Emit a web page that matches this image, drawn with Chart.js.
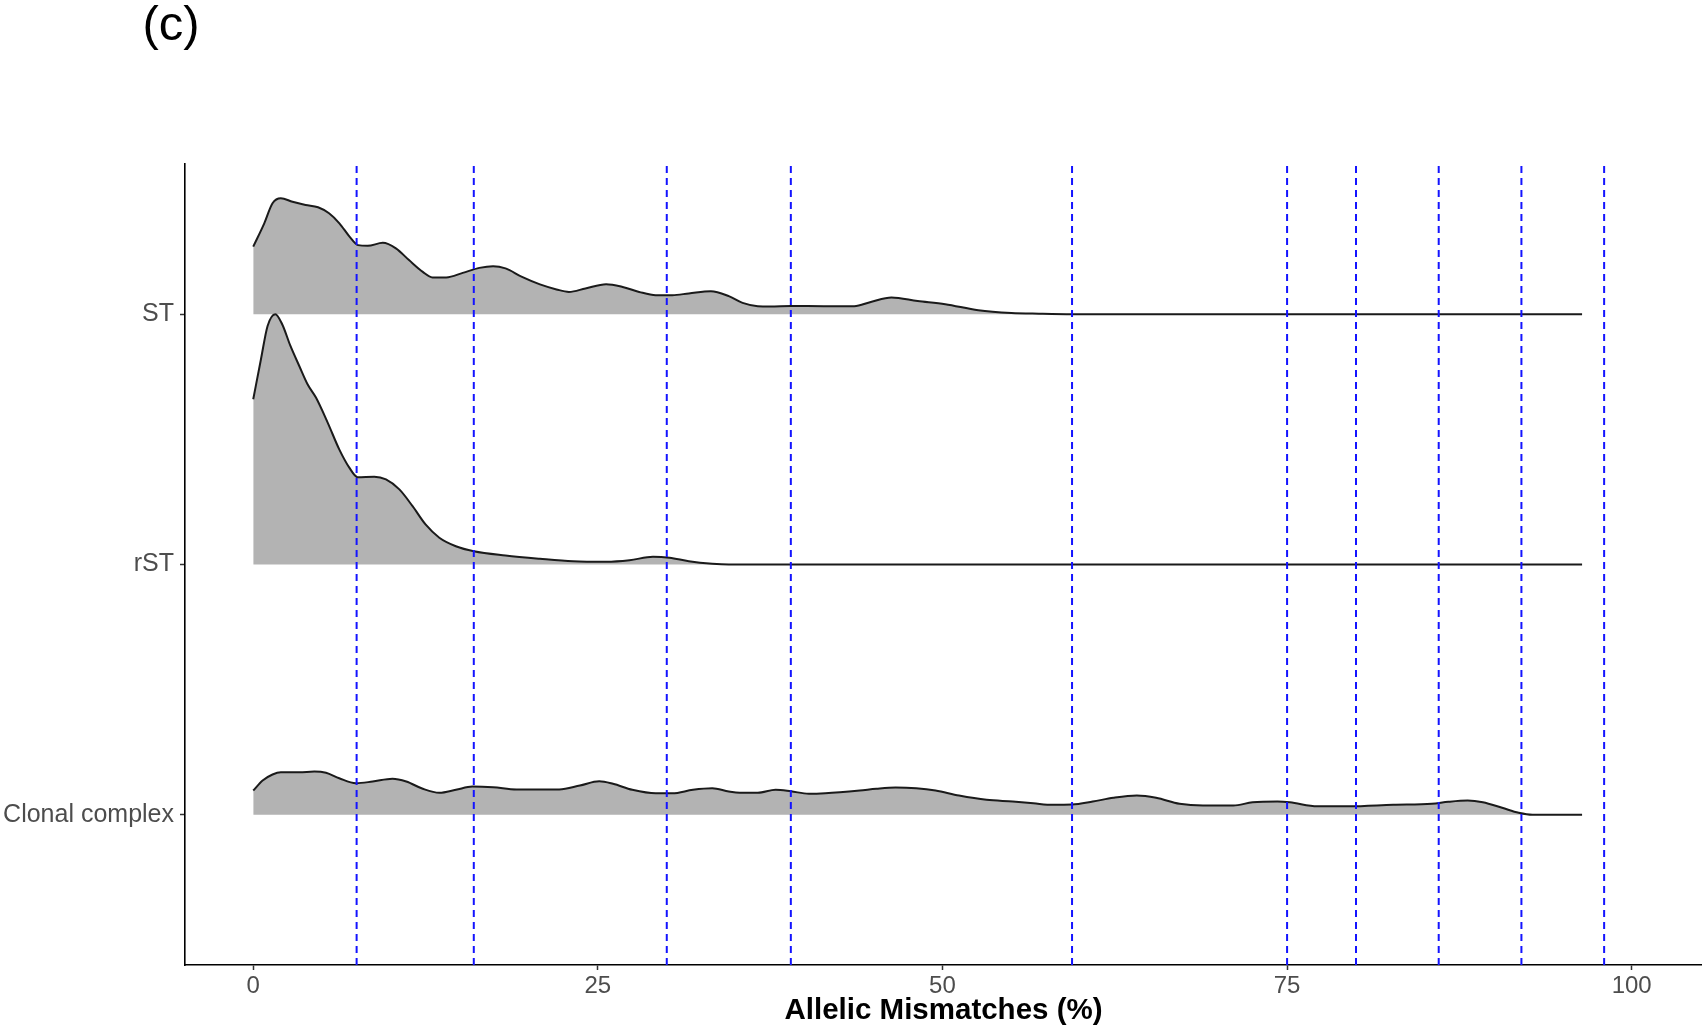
<!DOCTYPE html>
<html>
<head>
<meta charset="utf-8">
<script src="https://cdn.jsdelivr.net/npm/chart.js@4.4.1/dist/chart.umd.min.js"></script>
<style>
  html, body { margin: 0; padding: 0; background: #fff; }
  #wrap { width: 1702px; height: 1025px; }
</style>
</head>
<body>
<div id="wrap"><canvas id="c" width="1702" height="1025"></canvas></div>
<script>
// Ridge categories, bottom to top baseline positions 1..3
const ridgeNames = ['Clonal complex', 'rST', 'ST'];

// Ridge heights (density, in units of ridge spacing) along allelic mismatch %
const stX = [0, 0.8, 1.4, 2.0, 2.85, 3.8, 4.7, 5.5, 6.25, 7.0, 7.6, 8.3, 9.4, 10.35, 11.3, 12.3, 13.0, 14.0, 15.2, 16.4, 17.4, 18.3, 19.5, 20.8, 22.0, 22.9, 24.1, 25.6, 26.8, 28.0, 29.2, 30.4, 31.6, 33.2, 34.5, 35.5, 36.6, 37.5, 39.0, 41.4, 43.6, 44.8, 46.3, 48.2, 50.2, 52.6, 55.0, 57.0, 59.4, 96.4];
const stH = [0.27, 0.363, 0.443, 0.463, 0.449, 0.436, 0.427, 0.403, 0.363, 0.309, 0.276, 0.273, 0.285, 0.263, 0.216, 0.169, 0.147, 0.147, 0.165, 0.185, 0.192, 0.183, 0.149, 0.119, 0.099, 0.089, 0.103, 0.12, 0.109, 0.089, 0.076, 0.076, 0.083, 0.092, 0.072, 0.045, 0.032, 0.031, 0.033, 0.032, 0.032, 0.049, 0.067, 0.053, 0.04, 0.016, 0.005, 0.002, 0, 0];

const rstX = [0, 0.56, 1.04, 1.6, 2.1, 2.7, 3.34, 3.94, 4.55, 5.4, 6.24, 6.97, 7.57, 8.78, 9.63, 10.6, 11.56, 12.5, 13.5, 14.7, 16.0, 18.3, 20.8, 23.2, 25.6, 27.3, 29.0, 30.2, 31.6, 33.3, 34.5, 96.4];
const rstH = [0.66, 0.82, 0.953, 1.0, 0.96, 0.873, 0.793, 0.72, 0.667, 0.567, 0.46, 0.387, 0.349, 0.351, 0.34, 0.3, 0.233, 0.16, 0.107, 0.073, 0.053, 0.036, 0.023, 0.013, 0.011, 0.017, 0.031, 0.027, 0.013, 0.003, 0, 0];

const ccX = [0, 0.68, 1.4, 2.0, 3.34, 4.43, 5.28, 6.24, 7.45, 8.66, 10.1, 11.1, 12.3, 13.5, 14.7, 15.9, 17.4, 19.1, 22.2, 23.7, 25.1, 26.1, 27.5, 29.2, 30.4, 31.9, 33.3, 34.5, 35.3, 36.6, 37.9, 39.0, 40.3, 41.5, 44.0, 45.2, 46.6, 48.1, 49.5, 51.2, 53.2, 55.1, 56.6, 58.0, 59.4, 60.9, 62.4, 64.1, 65.5, 67.2, 68.9, 71.1, 72.5, 74.3, 75.2, 77.2, 79.5, 82.7, 85.5, 86.7, 88.1, 89.2, 90.6, 91.8, 92.8, 96.4];
const ccH = [0.097, 0.137, 0.161, 0.17, 0.17, 0.173, 0.168, 0.146, 0.126, 0.133, 0.144, 0.133, 0.104, 0.088, 0.1, 0.113, 0.11, 0.101, 0.101, 0.117, 0.134, 0.124, 0.1, 0.086, 0.086, 0.1, 0.106, 0.093, 0.088, 0.088, 0.1, 0.094, 0.084, 0.086, 0.097, 0.104, 0.109, 0.106, 0.097, 0.077, 0.06, 0.053, 0.046, 0.04, 0.041, 0.053, 0.068, 0.077, 0.068, 0.044, 0.037, 0.037, 0.05, 0.053, 0.05, 0.034, 0.034, 0.04, 0.044, 0.052, 0.057, 0.05, 0.028, 0.008, 0, 0];

// Cut-off thresholds (dashed verticals)
const cutoffs = [7.5, 16, 30, 39, 59.4, 75, 80, 86, 92, 98];

// Axis ticks
const xTicks = [0, 25, 50, 75, 100];
const yTicks = [1, 2, 3];

const X_MIN = -4.95, X_MAX = 105.1;
const Y_MIN = 0.4, Y_MAX = 3.6;

const FONT = '"Liberation Sans", Arial, sans-serif';

function ridge(xs, hs, base, order) {
  return {
    type: 'line',
    data: xs.map((x, i) => ({ x: x, y: base + hs[i] })),
    borderColor: '#1a1a1a',
    borderWidth: 2,
    backgroundColor: '#b3b3b3',
    fill: { value: base },
    pointRadius: 0,
    cubicInterpolationMode: 'monotone',
    order: order
  };
}

const datasets = [
  ridge(stX, stH, 3, 3),
  ridge(rstX, rstH, 2, 2),
  ridge(ccX, ccH, 1, 1)
];

cutoffs.forEach(v => {
  datasets.push({
    type: 'line',
    data: [{ x: v, y: Y_MIN }, { x: v, y: Y_MAX }],
    borderColor: '#1414ff',
    borderWidth: 2,
    borderDash: [7, 5],
    pointRadius: 0,
    fill: false,
    order: 0
  });
});

const panelLabel = {
  id: 'panelLabel',
  afterDraw(chart) {
    const ctx = chart.ctx;
    ctx.save();
    ctx.fillStyle = '#000';
    ctx.font = '49px ' + FONT;
    ctx.textAlign = 'center';
    ctx.textBaseline = 'alphabetic';
    ctx.fillText('(c)', 171, 40);
    ctx.restore();
  }
};

new Chart(document.getElementById('c'), {
  type: 'line',
  data: { datasets: datasets },
  plugins: [panelLabel],
  options: {
    responsive: false,
    animation: false,
    layout: { padding: { top: 164, right: 0, bottom: 0, left: 0 } },
    plugins: { legend: { display: false }, tooltip: { enabled: false } },
    scales: {
      x: {
        type: 'linear',
        min: X_MIN,
        max: X_MAX,
        afterBuildTicks: s => { s.ticks = xTicks.map(v => ({ value: v })); },
        afterFit: s => { s.height = 60; },
        grid: { display: true, drawOnChartArea: false, drawTicks: true, tickLength: 5, tickColor: '#333', tickWidth: 1.5 },
        border: { display: true, color: '#000', width: 1.6 },
        ticks: {
          color: '#4d4d4d',
          padding: 2,
          maxRotation: 0,
          font: { family: FONT, size: 24 },
          callback: v => String(v)
        },
        title: {
          display: true,
          text: 'Allelic Mismatches (%)',
          color: '#000',
          padding: { top: 0, bottom: -4 },
          font: { family: FONT, size: 29.5, weight: 'bold' }
        }
      },
      y: {
        type: 'linear',
        min: Y_MIN,
        max: Y_MAX,
        afterBuildTicks: s => { s.ticks = yTicks.map(v => ({ value: v })); },
        afterFit: s => { s.width = 185; },
        grid: { display: true, drawOnChartArea: false, drawTicks: true, tickLength: 5, tickColor: '#333', tickWidth: 1.5 },
        border: { display: true, color: '#000', width: 1.6 },
        ticks: {
          color: '#4d4d4d',
          padding: 6,
          font: { family: FONT, size: 25 },
          callback: v => ridgeNames[v - 1]
        }
      }
    }
  }
});
</script>
</body>
</html>
